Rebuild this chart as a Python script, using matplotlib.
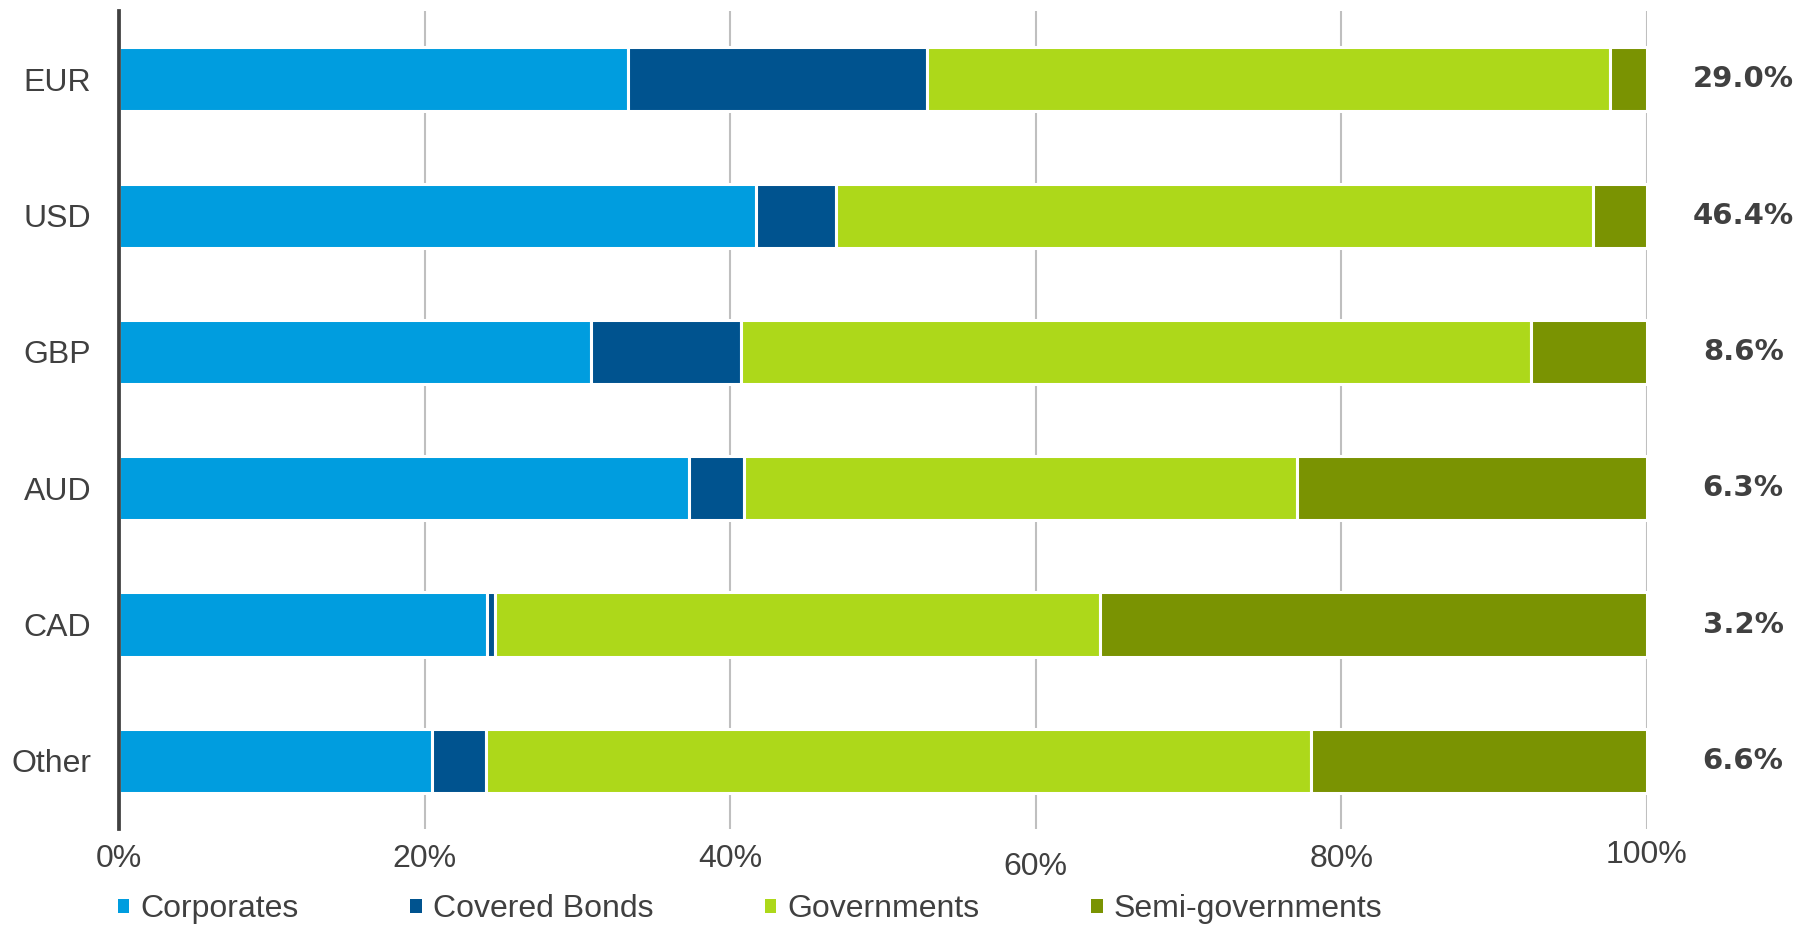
import matplotlib
matplotlib.use("Agg")
import matplotlib.pyplot as plt
import matplotlib.transforms as mtransforms
from matplotlib.patches import Patch
import numpy as np

categories = ["EUR", "USD", "GBP", "AUD", "CAD", "Other"]
corporates = [33.3, 41.7, 30.9, 37.3, 24.1, 20.5]
covered_bonds = [19.6, 5.2, 9.8, 3.6, 0.5, 3.5]
governments = [44.7, 49.6, 51.7, 36.2, 39.6, 54.0]
semi_governments = [2.4, 3.5, 7.6, 22.9, 35.8, 22.0]
shares = ["29.0%", "46.4%", "8.6%", "6.3%", "3.2%", "6.6%"]
series_names = ["Corporates", "Covered Bonds", "Governments", "Semi-governments"]
colors = ["#009DDF", "#00538F", "#ADD81A", "#7A9302"]
xticks = [0, 20, 40, 60, 80, 100]
xticklabels = ["0%", "20%", "40%", "60%", "80%", "100%"]

txt = "#404040"
plt.rcParams["font.family"] = ["Liberation Sans", "DejaVu Sans"]

fig = plt.figure(figsize=(17.96, 9.25), dpi=100)
ax = fig.add_axes([0.0663, 0.1038, 0.917 - 0.0663, 0.988 - 0.1038])

y = np.arange(len(categories))
left = np.zeros(len(categories))
series = [corporates, covered_bonds, governments, semi_governments]
for vals, name, c in zip(series, series_names, colors):
    ax.barh(y, vals, left=left, height=0.47, color=c, edgecolor="white",
            linewidth=2.2, label=name, zorder=2)
    left += np.array(vals)

ax.set_ylim(len(categories) - 0.5, -0.5)
ax.set_xlim(0, 100)
ax.set_yticks(y)
ax.set_yticklabels(categories, fontsize=23, color=txt)
ax.set_xticks(xticks)
ax.set_xticklabels(xticklabels, fontsize=23, color=txt)
ax.tick_params(axis="both", length=0)
ax.tick_params(axis="y", pad=20)
ax.tick_params(axis="x", pad=11)

offsets = {3: -8, 5: 4}
for i, lab in enumerate(ax.get_xticklabels()):
    if i in offsets:
        lab.set_transform(lab.get_transform() +
                          mtransforms.ScaledTranslation(0, offsets[i] / 100, fig.dpi_scale_trans))

ax.grid(axis="x", color="#BFBFBF", linewidth=1.5, zorder=0)
ax.set_axisbelow(True)
for s in ["top", "right", "bottom"]:
    ax.spines[s].set_visible(False)
ax.spines["left"].set_color(txt)
ax.spines["left"].set_linewidth(2.7)
ax.spines["left"].set_zorder(3)

for yi, s in zip(y, shares):
    ax.text(1.063, yi, s, transform=ax.get_yaxis_transform(), ha="center", va="center",
            fontsize=21, fontweight="bold", color=txt, family="DejaVu Sans")

handles = [Patch(facecolor=c, edgecolor="none") for c in colors]
leg = fig.legend(handles, series_names, loc="center left", bbox_to_anchor=(0.0657, 0.017),
                 ncol=4, frameon=False, fontsize=23, handlelength=0.35, handleheight=0.3,
                 handletextpad=0.35, columnspacing=3.5, borderpad=0, borderaxespad=0)
for t in leg.get_texts():
    t.set_color(txt)

fig.savefig("out.png", dpi=100)
